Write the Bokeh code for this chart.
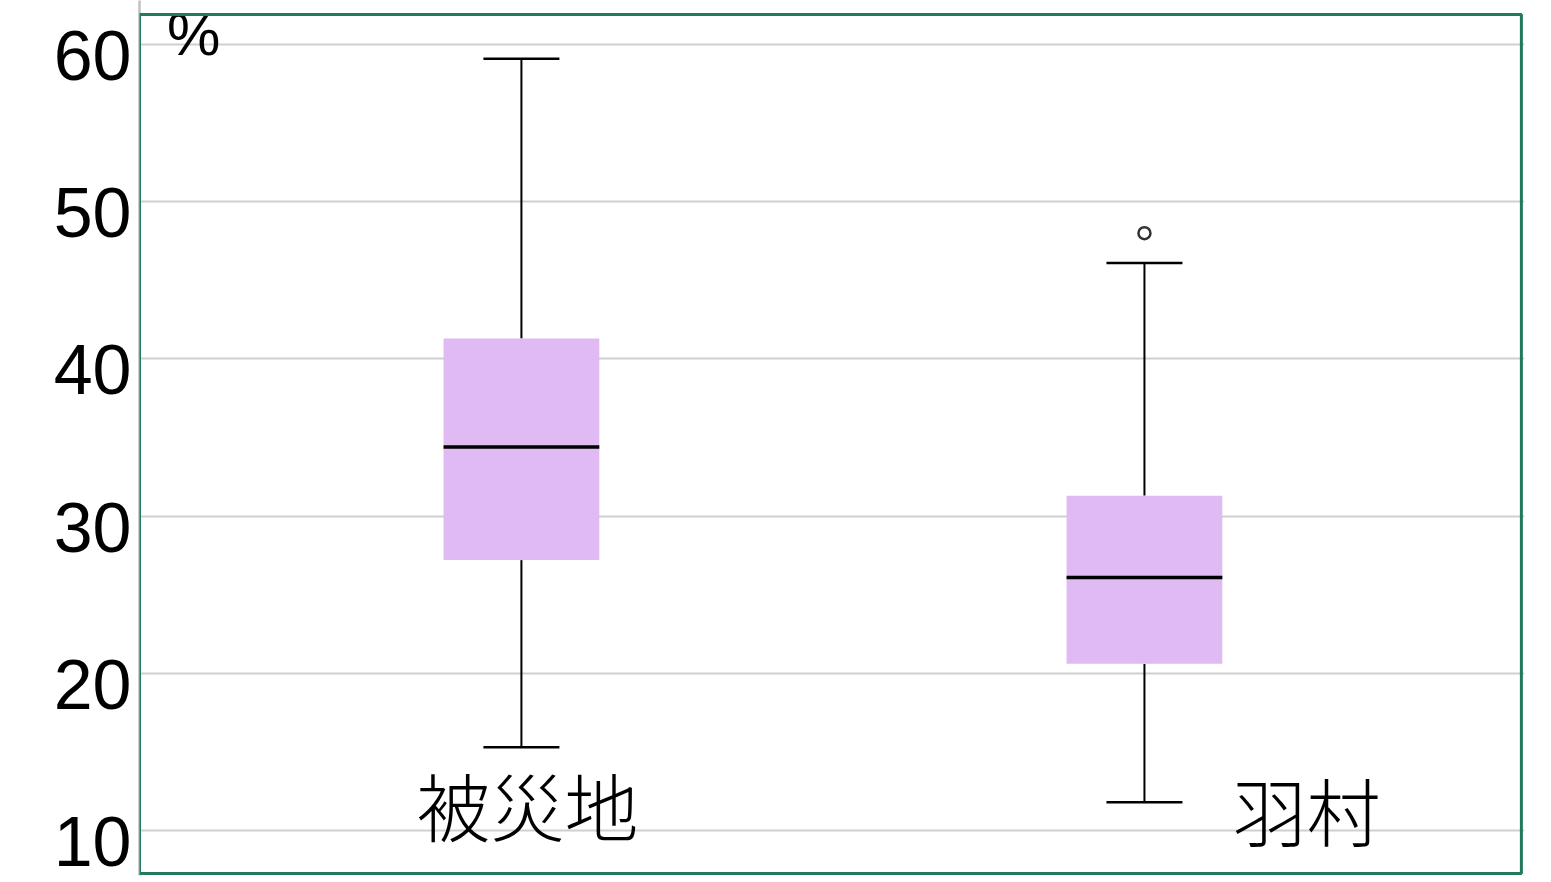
from bokeh.plotting import figure
from bokeh.models import Range1d, FixedTicker, BoxAnnotation, ColumnDataSource, LinearAxis
from bokeh.core.properties import value
from bokeh.embed import file_html
from bokeh.resources import INLINE

categories = ["被災地", "羽村"]
q1 = [27.2, 20.6]
median = [34.4, 26.1]
q3 = [41.3, 31.3]
whisker_low = [15.3, 11.8]
whisker_high = [59.1, 46.1]
outliers = [48.0]
outlier_group = [1]
y_ticks = [10, 20, 30, 40, 50, 60]
unit_label = "%"

pos = [1, 2]
cjk_font = "Noto Sans CJK JP Light, Noto Sans CJK JP"
x0, x1 = 0.387, 2.61
y0, y1 = 7.137, 62.80
label_shift = 0.70  # tick labels sit a little below their grid lines in the original

p = figure(width=1551, height=882, output_backend="svg", toolbar_location=None,
           x_range=Range1d(x0, x1), y_range=Range1d(y0, y1),
           min_border_left=139, min_border_right=27, min_border_top=0, min_border_bottom=7)
p.outline_line_color = None
p.xaxis.visible = False
p.xgrid.visible = False
p.yaxis[0].visible = False

p.extra_y_ranges = {"lab": Range1d(y0 + label_shift, y1 + label_shift)}
ax = LinearAxis(y_range_name="lab", ticker=FixedTicker(ticks=y_ticks))
ax.major_label_text_font = "Liberation Sans"
ax.major_label_text_font_size = "70px"
ax.major_label_text_color = "black"
ax.major_tick_line_color = None
ax.minor_tick_line_color = None
ax.major_tick_out = 0
ax.major_tick_in = 0
ax.major_label_standoff = 8
ax.axis_line_color = "#c0c0c0"
ax.axis_line_width = 2.5
p.add_layout(ax, "left")

p.ygrid.ticker = FixedTicker(ticks=y_ticks)
p.ygrid.grid_line_color = "#cfcfcf"
p.ygrid.grid_line_width = 2

src = ColumnDataSource(dict(x=pos, q1=q1, q3=q3, med=median, lo=whisker_low, hi=whisker_high,
                            cat=categories))
box_w = 0.25
cap_w = 0.122
src.data["xl"] = [x - box_w / 2 for x in pos]
src.data["xr"] = [x + box_w / 2 for x in pos]
src.data["cl"] = [x - cap_w / 2 for x in pos]
src.data["cr"] = [x + cap_w / 2 for x in pos]

p.segment(x0="x", y0="q3", x1="x", y1="hi", source=src, line_color="black", line_width=2)
p.segment(x0="x", y0="lo", x1="x", y1="q1", source=src, line_color="black", line_width=2)
p.vbar(x="x", width=box_w, top="q3", bottom="q1", source=src,
       fill_color="#dfbaf3", line_color=None)
p.segment(x0="xl", y0="med", x1="xr", y1="med", source=src, line_color="black", line_width=3.5)
p.segment(x0="cl", y0="hi", x1="cr", y1="hi", source=src, line_color="black", line_width=2.5)
p.segment(x0="cl", y0="lo", x1="cr", y1="lo", source=src, line_color="black", line_width=2.5)

p.scatter(x=[pos[g] for g in outlier_group], y=outliers, size=12, marker="circle",
          fill_color="white", line_color="#333333", line_width=2.5)

# category labels near the bottom
lab = ColumnDataSource(dict(x=pos, y=[10, 10], text=categories, xo=[6, 162], yo=[-27, -22]))
p.text(x="x", y="y", text="text", source=lab, x_offset="xo", y_offset="yo",
       text_align="center", text_baseline="middle",
       text_font=value(cjk_font), text_font_size="74px",
       text_color="black", text_font_style="normal")

p.text(x=[0.431], y=[y1], text=[unit_label], text_align="left", text_baseline="top",
       text_font=value("Liberation Sans"), text_font_size="60px", text_color="black")

p.add_layout(BoxAnnotation(left=x0, right=2.605, top=61.91, bottom=7.265,
                           fill_color=None, fill_alpha=0, line_color="#217a5c",
                           line_alpha=1.0, line_width=3))

open("out.html", "w").write(file_html(p, INLINE))
